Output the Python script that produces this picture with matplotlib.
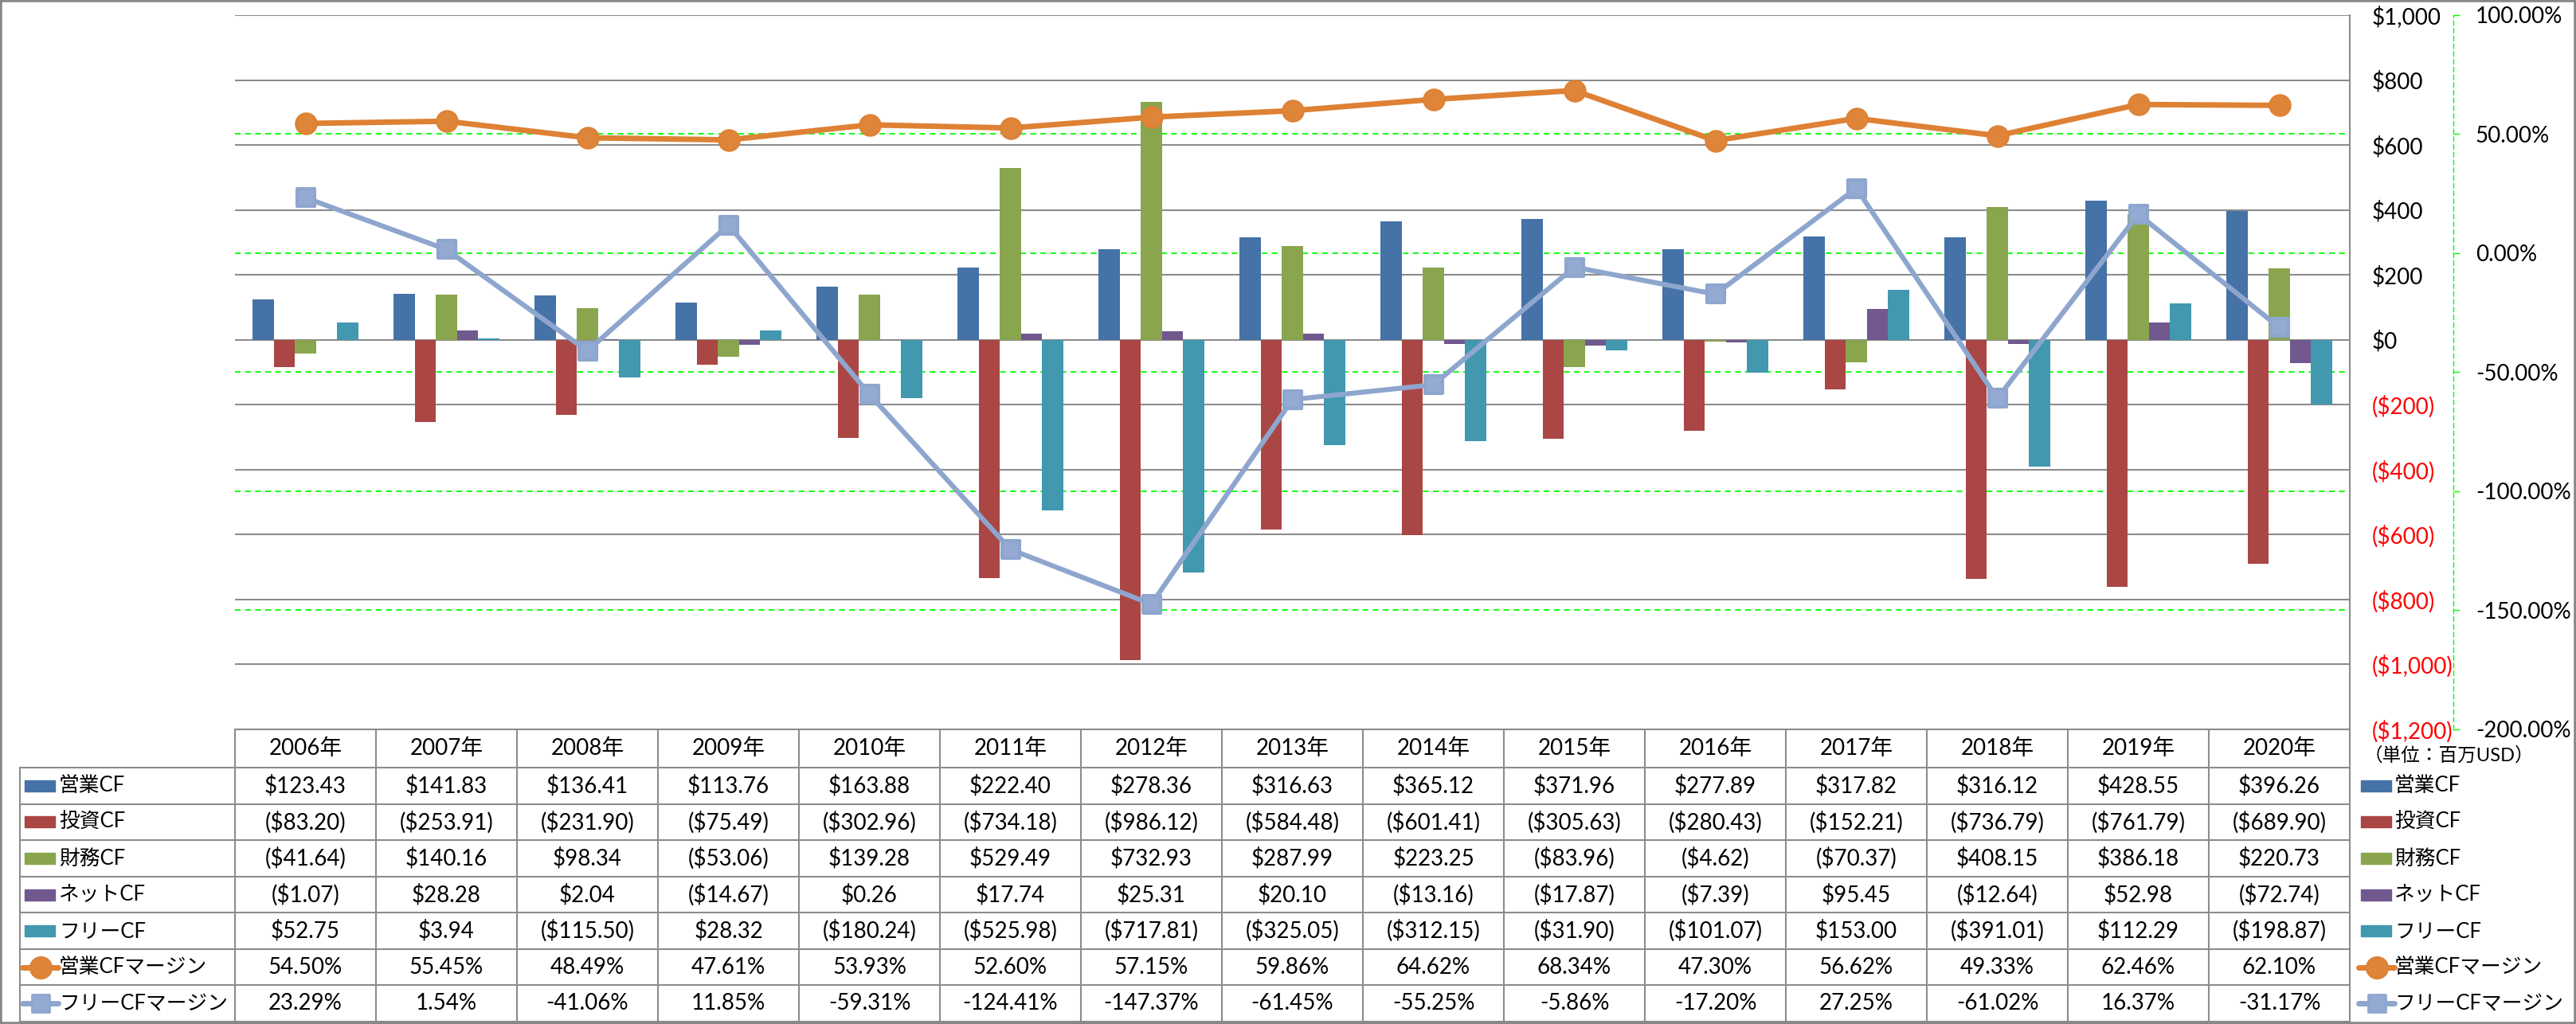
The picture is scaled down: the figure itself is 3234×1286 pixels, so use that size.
import matplotlib
matplotlib.use('Agg')
import matplotlib.pyplot as plt
import matplotlib.transforms as mtransforms
from matplotlib.markers import MarkerStyle
from matplotlib.patches import Rectangle
from matplotlib.lines import Line2D
import numpy as np

plt.rcParams['font.family'] = ['Lato', 'Noto Sans CJK JP', 'DejaVu Sans']

years = [f'{y}年' for y in range(2006, 2021)]

bar_names = ['営業CF', '投資CF', '財務CF', 'ネットCF', 'フリーCF']
line_names = ['営業CFマージン', 'フリーCFマージン']

op_cf = [123.43, 141.83, 136.41, 113.76, 163.88, 222.40, 278.36, 316.63, 365.12, 371.96,
         277.89, 317.82, 316.12, 428.55, 396.26]
inv_cf = [-83.20, -253.91, -231.90, -75.49, -302.96, -734.18, -986.12, -584.48, -601.41, -305.63,
          -280.43, -152.21, -736.79, -761.79, -689.90]
fin_cf = [-41.64, 140.16, 98.34, -53.06, 139.28, 529.49, 732.93, 287.99, 223.25, -83.96,
          -4.62, -70.37, 408.15, 386.18, 220.73]
net_cf = [-1.07, 28.28, 2.04, -14.67, 0.26, 17.74, 25.31, 20.10, -13.16, -17.87,
          -7.39, 95.45, -12.64, 52.98, -72.74]
free_cf = [52.75, 3.94, -115.50, 28.32, -180.24, -525.98, -717.81, -325.05, -312.15, -31.90,
           -101.07, 153.00, -391.01, 112.29, -198.87]

op_margin = [54.50, 55.45, 48.49, 47.61, 53.93, 52.60, 57.15, 59.86, 64.62, 68.34,
             47.30, 56.62, 49.33, 62.46, 62.10]
free_margin = [23.29, 1.54, -41.06, 11.85, -59.31, -124.41, -147.37, -61.45, -55.25, -5.86,
               -17.20, 27.25, -61.02, 16.37, -31.17]

usd_ticks = list(range(-1200, 1001, 200))
pct_ticks = list(range(-200, 101, 50))

bar_colors = ['#4572A7', '#AA4643', '#89A54E', '#71588F', '#4198AF']
orange = '#DE8134'
lblue = '#8EA6CE'
grid_gray = '#8C8C8C'
green = '#00FF00'


def usd(v):
    return f'${v:,.2f}' if v >= 0 else f'(${-v:,.2f})'


def usd_tick(v):
    return f'${v:,.0f}' if v >= 0 else f'(${-v:,.0f})'


W, H = 3234, 1286
fig = plt.figure(figsize=(W / 100, H / 100), dpi=100)


def fx(px):
    return px / W


def fy(py):
    return 1 - py / H


L, R, T, B = 295, 2950, 19, 916
ax = fig.add_axes([fx(L), fy(B), fx(R) - fx(L), fy(T) - fy(B)])
ax2 = ax.twinx()

x = np.arange(len(years))
bw = 0.15
for i, (vals, c) in enumerate(zip([op_cf, inv_cf, fin_cf, net_cf, free_cf], bar_colors)):
    ax.bar(x + (i - 2) * bw, vals, width=bw, color=c, zorder=3)

ax.set_xlim(-0.5, len(years) - 0.5)
ax.set_ylim(-1200, 1000)
ax.set_xticks([])
ax.yaxis.tick_right()
ax.set_yticks(usd_ticks, labels=[usd_tick(t) for t in usd_ticks])
for lbl, t in zip(ax.get_yticklabels(), usd_ticks):
    lbl.set_color('#FF0000' if t < 0 else 'black')
ax.tick_params(axis='y', length=0, pad=20, labelsize=20)
ax.grid(axis='y', color=grid_gray, lw=1.5, zorder=0)
ax.set_axisbelow(True)
for s in ['top', 'left', 'bottom']:
    ax.spines[s].set_visible(False)
ax.spines['right'].set_color(grid_gray)
ax.spines['right'].set_linewidth(1.5)

ax2.set_ylim(-200, 100)
ax2.set_yticks(pct_ticks, labels=[f'{t:.2f}%' for t in pct_ticks])
for lbl, t in zip(ax2.get_yticklabels(), pct_ticks):
    lbl.set_color('#FF0000' if t < 0 else 'black')
ax2.tick_params(axis='y', length=6, width=1, color=green, pad=14, labelsize=20)
for s in ['top', 'left', 'bottom']:
    ax2.spines[s].set_visible(False)
ax2.spines['right'].set_position(('axes', (3080 - L) / (R - L)))
ax2.spines['right'].set_color(green)
ax2.spines['right'].set_linestyle((0, (4, 3)))
ax2.spines['right'].set_linewidth(1)

# green dashed gridlines for the percent axis, drawn behind the bars
blend = mtransforms.blended_transform_factory(ax.transAxes, ax2.transData)
for t in pct_ticks[1:-1]:
    ax.add_line(Line2D([0, 1], [t, t], transform=blend, color=green, lw=1.3,
                       ls=(0, (4, 3)), zorder=1))
ax.set_ylim(-1200, 1000)

sq = MarkerStyle('s', joinstyle='round')
ax2.plot(x, op_margin, color=orange, lw=5, marker='o', ms=19, mfc='#DF8539', mec=orange,
         mew=1.5, zorder=4)
ax2.plot(x, free_margin, color=lblue, lw=4.5, marker=sq, ms=16, mfc='#94AAD2', mec=lblue,
         mew=3, zorder=5)
ax2.set_ylim(-200, 100)

# data table
TB = 1283
HB = 964
tab = fig.add_axes([fx(L), fy(TB), fx(R) - fx(L), fy(B) - fy(TB)])
tab.set_xlim(-0.5, len(years) - 0.5)
tab.set_ylim(TB, B)
tab.axis('off')
colw = (R - L) / len(years)
xl = -0.5 - (L - 25) / colw
rows = [op_cf, inv_cf, fin_cf, net_cf, free_cf, op_margin, free_margin]
rh = (TB - HB) / len(rows)
row_y = [HB + k * rh for k in range(len(rows) + 1)]

kw = dict(color=grid_gray, lw=1.5, clip_on=False)
tab.plot([-0.5, len(years) - 0.5], [B, B], **kw)
for yy in row_y:
    tab.plot([xl, len(years) - 0.5], [yy, yy], **kw)
tab.plot([xl, xl], [HB, TB], **kw)
for k in range(len(years) + 1):
    tab.plot([k - 0.5, k - 0.5], [B, TB], **kw)

for i, yl in enumerate(years):
    tab.text(i, (B + HB) / 2, yl, ha='center', va='center', fontsize=20)
for r, vals in enumerate(rows):
    yc = (row_y[r] + row_y[r + 1]) / 2
    for i, v in enumerate(vals):
        s = usd(v) if r < 5 else f'{v:.2f}%'
        tab.text(i, yc, s, ha='center', va='center', fontsize=20)

# legend keys: in the table and at the right
names = bar_names + line_names


def key(x0, yc, r):
    if r < 5:
        fig.add_artist(Rectangle((fx(x0), fy(yc + 7)), 38 / W, 14 / H,
                                 transform=fig.transFigure, color=bar_colors[r]))
    else:
        c, m, mf, ms = (orange, 'o', '#DF8539', 19) if r == 5 else (lblue, sq, '#94AAD2', 16)
        fig.add_artist(Line2D([fx(x0 - 3), fx(x0 + 42)], [fy(yc), fy(yc)],
                              transform=fig.transFigure, color=c, lw=5,
                              solid_capstyle='round'))
        fig.add_artist(Line2D([fx(x0 + 19.5)], [fy(yc)], transform=fig.transFigure,
                              marker=m, ms=ms, mfc=mf, mec=c, mew=2, ls='none'))


for r, nm in enumerate(names):
    yc = (row_y[r] + row_y[r + 1]) / 2
    key(31, yc, r)
    fig.text(fx(74), fy(yc), nm, ha='left', va='center', fontsize=18.5)
    key(2964, yc, r)
    fig.text(fx(3006), fy(yc), nm, ha='left', va='center', fontsize=18.5)

fig.text(fx(2968), fy(948), '（単位：百万USD）', ha='left', va='center', fontsize=17)

fig.add_artist(Rectangle((0, 0), 1, 1, transform=fig.transFigure, fill=False,
                         ec='#878787', lw=4))

fig.savefig('out.png', dpi=100)
